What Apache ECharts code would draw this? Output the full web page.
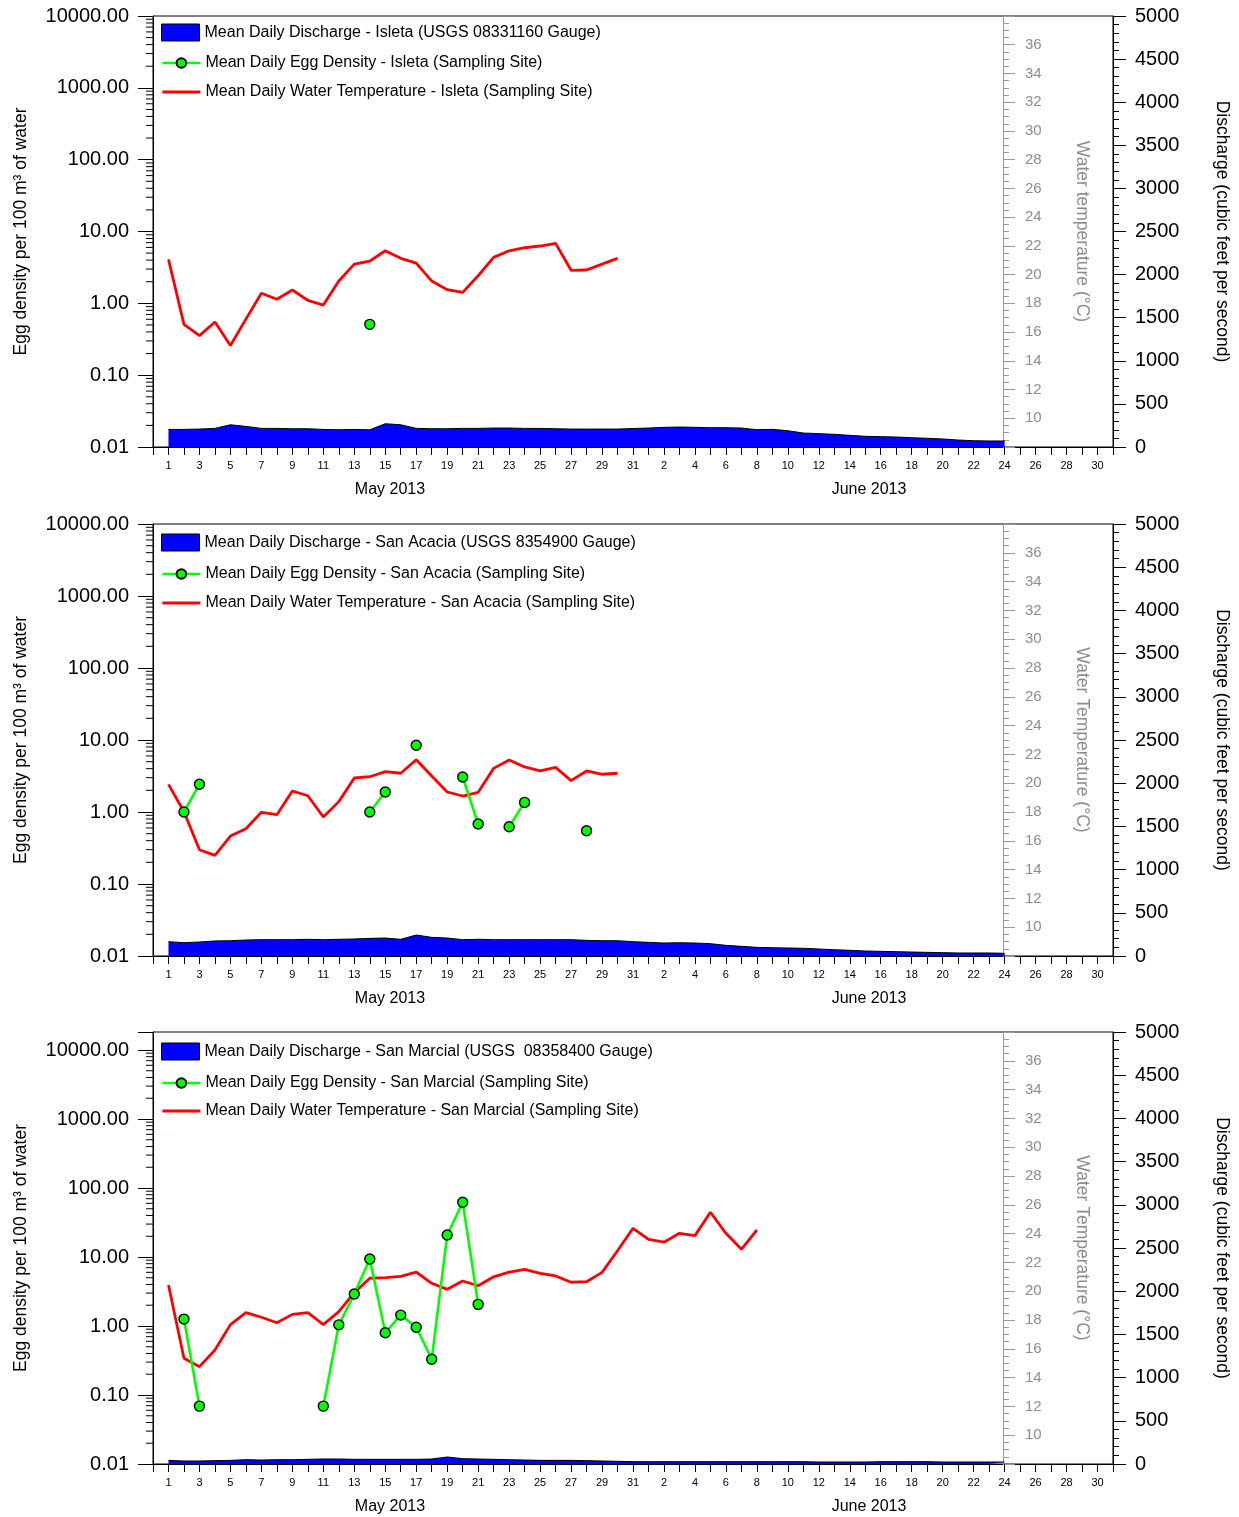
<!DOCTYPE html>
<html><head><meta charset="utf-8">
<script src="https://cdn.jsdelivr.net/npm/echarts@6/dist/echarts.min.js"></script>
<style>html,body{margin:0;padding:0;background:#fff}#chart{width:1239px;height:1517px}</style>
</head><body><div id="chart"></div>
<script>
const FONT = '"Liberation Sans", Arial, sans-serif';

// x value: 1 = May 1 2013 ... 31 = May 31, 32 = June 1 ... 55 = June 24. Axis spans 0 (Apr 30) .. 62 (Jul 1)
const monthLabels = ['May 2013', 'June 2013'];

const dischargeNames = [
  'Mean Daily Discharge - Isleta (USGS 08331160 Gauge)',
  'Mean Daily Discharge - San Acacia (USGS 8354900 Gauge)',
  'Mean Daily Discharge - San Marcial (USGS  08358400 Gauge)'
];
const eggNames = [
  'Mean Daily Egg Density - Isleta (Sampling Site)',
  'Mean Daily Egg Density - San Acacia (Sampling Site)',
  'Mean Daily Egg Density - San Marcial (Sampling Site)'
];
const tempNames = [
  'Mean Daily Water Temperature - Isleta (Sampling Site)',
  'Mean Daily Water Temperature - San Acacia (Sampling Site)',
  'Mean Daily Water Temperature - San Marcial (Sampling Site)'
];
const tempAxisNames = ['Water temperature (\u00B0C)', 'Water Temperature (\u00B0C)', 'Water Temperature (\u00B0C)'];
const eggAxisName = 'Egg density per 100 m\u00B3 of water';
const dischargeAxisName = 'Discharge (cubic feet per second)';

// Discharge (cfs), daily from May 1
const isletaDischarge = [204,204,208,216,258,239,216,216,212,212,204,200,204,200,270,258,216,212,212,216,216,220,220,216,216,212,208,208,208,208,214,220,228,232,228,224,224,220,201,205,189,162,155,147,135,124,120,116,108,101,93,81,73,70,70];
const sanAcaciaDischarge = [166,154,162,174,177,185,189,189,189,193,189,193,197,204,208,193,243,216,208,189,193,189,189,189,189,189,189,181,177,177,166,158,150,154,150,143,123,112,100,96,93,89,81,73,66,58,54,50,46,42,39,35,35,35,31];
const sanMarcialDischarge = [42,35,35,39,42,50,46,50,50,54,58,58,54,54,54,54,54,58,81,62,58,54,50,46,42,42,42,39,35,31,27,27,27,27,27,27,27,27,27,27,27,27,23,23,23,23,27,27,27,27,23,23,23,23,23];

// Water temperature (°C), daily from May 1
const isletaTemp = [21.06,16.54,15.75,16.70,15.07,16.9,18.70,18.28,18.93,18.21,17.88,19.55,20.73,20.94,21.66,21.13,20.80,19.55,18.95,18.76,19.92,21.2,21.66,21.87,21.99,22.17,20.30,20.32,20.73,21.13];
const sanAcaciaTemp = [19.92,18.02,15.38,14.99,16.33,16.84,17.98,17.81,19.46,19.13,17.65,18.72,20.36,20.45,20.80,20.69,21.63,20.5,19.39,19.11,19.37,21.03,21.61,21.13,20.85,21.1,20.18,20.85,20.62,20.69];
const sanMarcialTemp = [20.43,15.34,14.76,15.92,17.68,18.51,18.19,17.81,18.39,18.51,17.68,18.58,19.9,20.9,20.94,21.03,21.33,20.55,20.13,20.71,20.38,21.0,21.33,21.52,21.24,21.06,20.62,20.66,21.31,22.81,24.37,23.6,23.4,24.02,23.86,25.48,24.02,22.91,24.25];

// Egg density per 100 m3, daily from May 1 (null = no sample)
const isletaEgg = [null,null,null,null,null,null,null,null,null,null,null,null,null,0.51];
const sanAcaciaEgg = [null,1.0,2.43,null,null,null,null,null,null,null,null,null,null,1.0,1.90,null,8.44,null,null,3.06,0.68,null,0.625,1.36,null,null,null,0.55];
const sanMarcialEgg = [null,1.26,0.069,null,null,null,null,null,null,null,0.069,1.04,2.91,9.35,0.80,1.44,0.96,0.33,20.8,62.1,2.06];

const dischargeSets = [isletaDischarge, sanAcaciaDischarge, sanMarcialDischarge];
const tempSets = [isletaTemp, sanAcaciaTemp, sanMarcialTemp];
const eggSets = [isletaEgg, sanAcaciaEgg, sanMarcialEgg];

// axis ranges
const logMin = 0.01;
const logMaxes = [10000, 10000, 18240];
const tempMin = 8, tempMax = 38;
const dischargeMin = 0, dischargeMax = 5000;
const logMinorMultipliers = [2,3,4,5,6,7,8,9];

// layout
const panelTops = [16, 524, 1032];
const panelHeights = [431, 432, 432];
const gridLeft = 153, gridRight = 126;
const legendRowCenters = [[32, 63, 92], [542, 574, 603], [1051, 1083, 1111]];

const toXY = arr => arr.map((v, i) => [i + 1, v]);

const option = {
  animation: false,
  backgroundColor: '#fff',
  textStyle: { fontFamily: FONT },
  grid: [], xAxis: [], yAxis: [], series: [], legend: [], graphic: []
};

const NAME_FS = 17.5;

for (let p = 0; p < 3; p++) {
  option.grid.push({ left: gridLeft, right: gridRight, top: panelTops[p], height: panelHeights[p],
    show: true, borderColor: '#000', borderWidth: 1, backgroundColor: 'transparent' });
  option.xAxis.push({
    type: 'value', gridIndex: p, min: 0, max: 62, interval: 1,
    axisLine: { onZero: false, lineStyle: { color: '#000', width: 1 } },
    axisTick: { length: 8, lineStyle: { color: '#000' } },
    splitLine: { show: false },
    axisLabel: { fontSize: 11, color: '#000', margin: 13, fontFamily: FONT,
      formatter: v => (v >= 1 && v <= 61 && v % 2 === 1) ? String(v <= 31 ? v : v - 31) : '' }
  });
  // left log axis (egg density)
  option.yAxis.push({
    type: 'log', gridIndex: p, position: 'left', min: logMin, max: logMaxes[p], logBase: 10,
    name: eggAxisName, nameLocation: 'middle', nameRotate: 90, nameGap: 123,
    nameTextStyle: { fontSize: NAME_FS, color: '#000', fontFamily: FONT },
    axisLine: { show: true, lineStyle: { color: '#000' } },
    axisTick: { length: 15, lineStyle: { color: '#000' } },
    splitLine: { show: false },
    axisLabel: { fontSize: 20, color: '#000', margin: 24, fontFamily: FONT,
      formatter: v => { const l = Math.log10(v); return Math.abs(l - Math.round(l)) < 1e-6 ? v.toFixed(2) : ''; } }
  });
  // inner temperature axis
  option.yAxis.push({
    type: 'value', gridIndex: p, position: 'right', offset: -110, min: tempMin, max: tempMax, interval: 2,
    name: tempAxisNames[p], nameLocation: 'middle', nameRotate: -90, nameGap: 70,
    nameTextStyle: { fontSize: NAME_FS, color: '#8c8c8c', fontFamily: FONT },
    axisLine: { show: true, lineStyle: { color: '#999' } },
    axisTick: { length: 12, lineStyle: { color: '#999' } },
    minorTick: { show: true, splitNumber: 4, length: 6, lineStyle: { color: '#999' } },
    splitLine: { show: false },
    axisLabel: { fontSize: 15, color: '#8c8c8c', margin: 22, fontFamily: FONT,
      formatter: v => (v === tempMin || v === tempMax) ? '' : String(v) }
  });
  // discharge axis
  option.yAxis.push({
    type: 'value', gridIndex: p, position: 'right', offset: 0, min: dischargeMin, max: dischargeMax, interval: 500,
    name: dischargeAxisName, nameLocation: 'middle', nameRotate: -90, nameGap: 100,
    nameTextStyle: { fontSize: NAME_FS, color: '#000', fontFamily: FONT },
    axisLine: { show: true, lineStyle: { color: '#000' } },
    axisTick: { length: 13, lineStyle: { color: '#000' } },
    minorTick: { show: true, splitNumber: 5, length: 6, lineStyle: { color: '#000' } },
    splitLine: { show: false },
    axisLabel: { fontSize: 20, color: '#000', margin: 22, fontFamily: FONT, formatter: v => String(v) }
  });

  const yLog = 3 * p, yTemp = 3 * p + 1, yDis = 3 * p + 2;

  option.series.push({
    name: dischargeNames[p], type: 'line', xAxisIndex: p, yAxisIndex: yDis,
    data: toXY(dischargeSets[p]), symbol: 'none', z: 1,
    lineStyle: { color: '#000', width: 1 },
    itemStyle: { color: '#0000FF' },
    areaStyle: { color: '#0000FF', opacity: 1 }
  });
  option.series.push({
    name: tempNames[p], type: 'line', xAxisIndex: p, yAxisIndex: yTemp,
    data: toXY(tempSets[p]), symbol: 'none', z: 3,
    lineStyle: { color: '#FF0000', width: 2.8 }, itemStyle: { color: '#FF0000' }
  });
  option.series.push({
    name: eggNames[p], type: 'line', xAxisIndex: p, yAxisIndex: yLog,
    data: toXY(eggSets[p]), symbol: 'circle', symbolSize: 10, showSymbol: true, showAllSymbol: true,
    connectNulls: false, z: 4,
    lineStyle: { color: '#00FF00', width: 2.6 },
    itemStyle: { color: '#00FF00', borderColor: '#000', borderWidth: 1.4 }
  });
  // log-scale minor ticks on the left axis (2..9 x each decade)
  const minorTickValues = [];
  for (let e = -2; e < 5; e++) {
    logMinorMultipliers.forEach(m => {
      const v = m * Math.pow(10, e);
      if (v > logMin && v < logMaxes[p]) minorTickValues.push([0, v]);
    });
  }
  option.series.push({
    type: 'custom', xAxisIndex: p, yAxisIndex: yLog, silent: true, clip: false, z: 5,
    data: minorTickValues,
    renderItem: (params, api) => {
      const pt = api.coord([0, api.value(1)]);
      return { type: 'line', shape: { x1: pt[0] - 7, y1: pt[1], x2: pt[0], y2: pt[1] },
        style: { stroke: '#000', lineWidth: 1 } };
    }
  });

  const rc = legendRowCenters[p];
  option.legend.push({
    orient: 'vertical', left: 161, top: rc[0] - 8.5, padding: 0, itemWidth: 38, itemHeight: 17,
    textStyle: { fontSize: 16, color: '#000', fontFamily: FONT },
    selectedMode: false,
    data: [{ name: dischargeNames[p], icon: 'rect', itemStyle: { color: '#0000FF', borderColor: '#000', borderWidth: 1 } }]
  });
  option.legend.push({
    orient: 'vertical', left: 161, top: rc[1] - 8, padding: 0, itemWidth: 38, itemHeight: 12, itemGap: rc[2] - rc[1] - 16,
    textStyle: { fontSize: 16, color: '#000', fontFamily: FONT },
    selectedMode: false,
    data: [
      { name: eggNames[p], lineStyle: { width: 2.6 } },
      { name: tempNames[p], itemStyle: { opacity: 0 }, lineStyle: { width: 2.8 } }
    ]
  });

  const labelY = panelTops[p] + panelHeights[p] + 43;
  [390, 869].forEach((cx, k) => {
    option.graphic.push({ type: 'text', x: cx, y: labelY, silent: true,
      style: { text: monthLabels[k], fontSize: 16, fill: '#000', fontFamily: FONT, align: 'center', verticalAlign: 'middle' } });
  });
}

const chart = echarts.init(document.getElementById('chart'), null, { renderer: 'canvas' });
chart.setOption(option);
</script></body></html>
